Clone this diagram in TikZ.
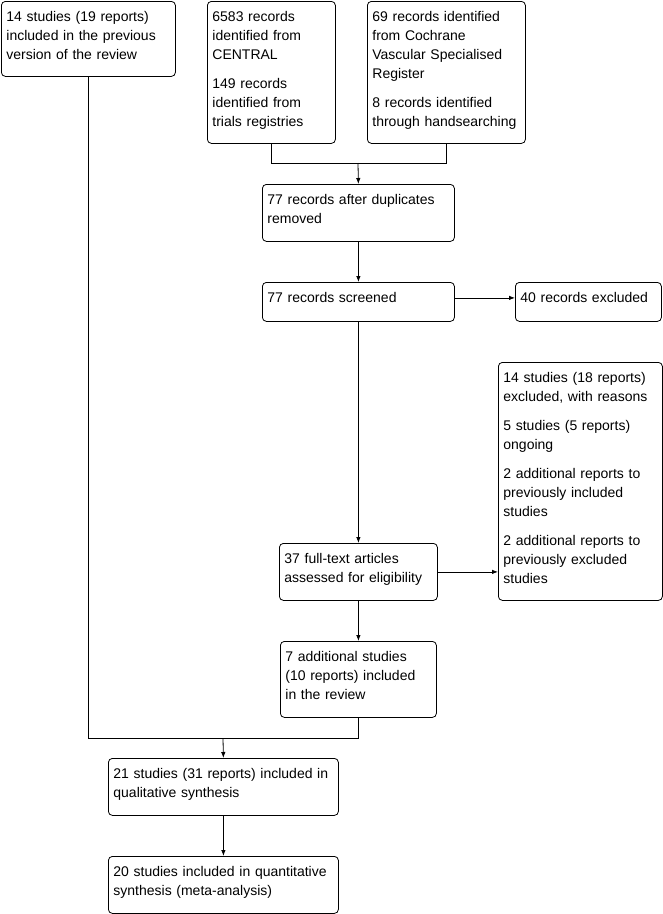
\documentclass[tikz,border=0pt]{standalone}
\usepackage{fontspec}
\setmainfont{Liberation Sans}
\usepackage{tikz}
\usetikzlibrary{arrows.meta}

\begin{document}
\begin{tikzpicture}[x=1pt, y=-1pt, line width=0.8pt]
        % Styles
        \tikzstyle{block} = [rectangle, draw, rounded corners=4pt, anchor=north west, align=left, inner xsep=5pt, inner ysep=0pt, text height=20pt, font=\fontsize{14pt}{19pt}\selectfont]
        \tikzstyle{line} = [draw]
        \tikzstyle{arrow} = [draw, -{Latex[length=6pt,width=4.5pt]}]

        \useasboundingbox (0,0) rectangle (663,914);

        % Nodes
        \node [block, text width=164pt, text depth=55pt] (prev) at (1,1) {14 studies (19 reports)\\included in the previous\\version of the review};
        \node [block, text width=118pt, text depth=122pt] (central) at (207,1) {6583 records\\identified from\\CENTRAL\\[10pt]149 records\\identified from\\trials registries};
        \node [block, text width=148pt, text depth=122pt] (cochrane) at (367,1) {69 records identified\\from Cochrane\\Vascular Specialised\\Register\\[10pt]8 records identified\\through handsearching};
        \node [block, text width=182pt, text depth=37pt] (dedup) at (262,184) {77 records after duplicates\\removed};
        \node [block, text width=182pt, text depth=19pt] (screen) at (262,282) {77 records screened};
        \node [block, text width=136pt, text depth=19pt] (excl) at (515,282) {40 records excluded};
        \node [block, text width=154pt, text depth=218pt] (reasons) at (498,362) {14 studies (18 reports)\\excluded, with reasons\\[10pt]5 studies (5 reports)\\ongoing\\[10pt]2 additional reports to\\previously included\\studies\\[10pt]2 additional reports to\\previously excluded\\studies};
        \node [block, text width=148pt, text depth=37pt] (fulltext) at (279,543) {37 full-text articles\\assessed for eligibility};
        \node [block, text width=146pt, text depth=56pt] (added) at (280,641) {7 additional studies\\(10 reports) included\\in the review};
        \node [block, text width=220pt, text depth=37pt] (qual) at (108,758) {21 studies (31 reports) included in\\qualitative synthesis};
        \node [block, text width=220pt, text depth=37pt] (quant) at (108,856) {20 studies included in quantitative\\synthesis (meta-analysis)};

        \coordinate (join1) at (358,163);
        \coordinate (join2) at (223,738);

        % Edges
        \path [line] (central.south) |- (join1);
        \path [line] (cochrane.south) |- (join1);
        \path [arrow] (join1) -- (dedup.north);
        \path [arrow] (dedup) -- (screen);
        \path [arrow] ([yshift=4pt]screen.east) -- ([yshift=4pt]excl.west);
        \path [arrow] (screen) -- (fulltext);
        \path [arrow] (fulltext.east) -- (fulltext.east -| reasons.west);
        \path [arrow] (fulltext) -- (added);
        \path [line] (prev.south) |- (join2);
        \path [line] (added.south) |- (join2);
        \path [arrow] (join2) -- (qual.north);
        \path [arrow] (qual) -- (quant);
\end{tikzpicture}
\end{document}
